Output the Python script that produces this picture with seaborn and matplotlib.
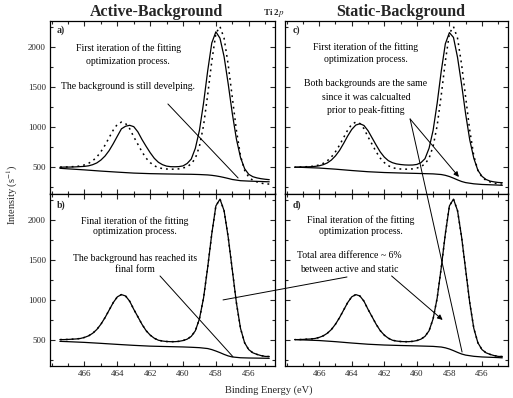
import matplotlib
matplotlib.use('Agg')
import matplotlib.pyplot as plt
import seaborn as sns
from matplotlib.ticker import MultipleLocator
from matplotlib.patches import ConnectionPatch

# =========================
# DATA
# =========================
energy = [467.5, 467.25, 467.0, 466.75, 466.5, 466.25, 466.0, 465.75, 465.5, 465.25,
          465.0, 464.75, 464.5, 464.25, 464.0, 463.75, 463.5, 463.25, 463.0, 462.75,
          462.5, 462.25, 462.0, 461.75, 461.5, 461.25, 461.0, 460.75, 460.5, 460.25,
          460.0, 459.75, 459.5, 459.25, 459.0, 458.75, 458.5, 458.25, 458.0, 457.75,
          457.5, 457.25, 457.0, 456.75, 456.5, 456.25, 456.0, 455.75, 455.5, 455.25,
          455.0, 454.75]

# measured Ti 2p spectrum (dotted, same in every panel)
spectrum = [500, 500, 502, 505, 508, 514, 527, 547, 579, 626,
            692, 774, 868, 962, 1034, 1062, 1045, 980, 878, 785,
            691, 612, 556, 517, 492, 482, 476, 474, 474, 478,
            488, 505, 540, 610, 760, 1020, 1400, 1820, 2170, 2255,
            2110, 1780, 1370, 960, 640, 460, 375, 335, 315, 300,
            290, 288]

# first iteration envelope, active background (a)
fit_active_first = [497, 500, 500, 501, 503, 506, 509, 516, 530, 552,
                    588, 638, 706, 792, 886, 978, 1010, 1022, 1005, 940,
                    845, 760, 680, 610, 560, 530, 512, 505, 504, 506,
                    515, 545, 600, 735, 960, 1300, 1700, 2050, 2190, 2110,
                    1880, 1540, 1170, 850, 620, 480, 410, 380, 365, 355,
                    348, 343]

# first iteration envelope, static background (c)
fit_static_first = [497, 500, 501, 503, 505, 509, 516, 530, 552, 588,
                    640, 708, 795, 888, 970, 1025, 1042, 1020, 955, 865,
                    775, 690, 625, 580, 555, 540, 532, 527, 525, 526,
                    533, 555, 605, 735, 960, 1300, 1700, 2040, 2180, 2120,
                    1870, 1530, 1160, 840, 610, 460, 385, 345, 325, 315,
                    308, 305]

bg_energy = [467.5, 467.0, 466.0, 465.0, 464.0, 463.0, 462.0, 461.0, 460.0, 459.5,
             459.0, 458.5, 458.25, 458.0, 457.75, 457.5, 457.25, 457.0, 456.5, 456.0,
             455.0, 454.75]
bg_active_first = [485, 478, 465, 450, 437, 425, 418, 414, 411, 410,
                   407, 402, 397, 390, 381, 370, 358, 345, 330, 325,
                   318, 316]
bg_active_final = [478, 474, 465, 453, 440, 428, 418, 413, 408, 404,
                   399, 388, 375, 357, 337, 315, 296, 283, 273, 270,
                   267, 266]
bg_static = [500, 496, 488, 474, 457, 442, 432, 426, 421, 418,
             415, 407, 397, 382, 362, 340, 320, 306, 291, 283,
             275, 272]

x_ticks = [466, 464, 462, 460, 458, 456]
y_ticks = [500, 1000, 1500, 2000]

# =========================
# STYLE
# =========================
sns.set_theme(style='ticks')
plt.rcParams['font.family'] = ['Liberation Serif', 'DejaVu Serif']
plt.rcParams['mathtext.fontset'] = 'stix'
plt.rcParams['axes.linewidth'] = 0.9

W, H = 513, 398
fig = plt.figure(figsize=(W / 100, H / 100), dpi=100)


def box(l, t, r, b):
    return [l / W, 1 - b / H, (r - l) / W, (b - t) / H]


ax_a = fig.add_axes(box(50, 21, 275, 193.5))
ax_c = fig.add_axes(box(285, 21, 508, 193.5))
ax_b = fig.add_axes(box(50, 193.5, 275, 366))
ax_d = fig.add_axes(box(285, 193.5, 508, 366))

dots = (0, (1.2, 2.6))

panels = [
    (ax_a, fit_active_first, bg_active_first, True),
    (ax_c, fit_static_first, bg_static, True),
    (ax_b, spectrum, bg_active_final, False),
    (ax_d, spectrum, bg_static, False),
]

for ax, fit, bg, first in panels:
    sns.lineplot(x=energy, y=spectrum, ax=ax, color='black', lw=1.1, linestyle=dots)
    sns.lineplot(x=energy, y=fit, ax=ax, color='black', lw=0.9)
    sns.lineplot(x=bg_energy, y=bg, ax=ax, color='black', lw=0.9)
    ax.set_xlim(468.1, 454.4)
    ax.set_ylim(170, 2325)
    ax.set_xticks(x_ticks)
    ax.set_yticks(y_ticks)
    ax.xaxis.set_minor_locator(MultipleLocator(1))
    ax.yaxis.set_minor_locator(MultipleLocator(250))
    ax.tick_params(which='both', direction='in', top=True, right=True,
                   labelsize=6.5, width=0.8, pad=3)
    ax.tick_params(which='major', length=3.5)
    ax.tick_params(which='minor', length=2)
    ax.set_xlabel('')
    ax.set_ylabel('')
    for s in ax.spines.values():
        s.set_color('black')

for ax in (ax_a, ax_c):
    ax.tick_params(labelbottom=False)
for ax in (ax_c, ax_d):
    ax.tick_params(labelleft=False)

# panel texts
tx = dict(fontsize=7, ha='center', va='center', color='black')
lab = dict(fontsize=7, fontweight='bold', ha='left', va='center')

ax_a.text(0.031, 0.948, 'a)', transform=ax_a.transAxes, **lab)
ax_a.text(0.347, 0.843, 'First iteration of the fitting', transform=ax_a.transAxes, **tx)
ax_a.text(0.347, 0.768, 'optimization process.', transform=ax_a.transAxes, **tx)
ax_a.text(0.347, 0.623, 'The background is still develping.', transform=ax_a.transAxes, **tx)

ax_c.text(0.036, 0.948, 'c)', transform=ax_c.transAxes, **lab)
ax_c.text(0.363, 0.849, 'First iteration of the fitting', transform=ax_c.transAxes, **tx)
ax_c.text(0.363, 0.774, 'optimization process.', transform=ax_c.transAxes, **tx)
ax_c.text(0.363, 0.635, 'Both backgrounds are the same', transform=ax_c.transAxes, **tx)
ax_c.text(0.363, 0.559, 'since it was calcualted', transform=ax_c.transAxes, **tx)
ax_c.text(0.363, 0.484, 'prior to peak-fitting', transform=ax_c.transAxes, **tx)

ax_b.text(0.031, 0.933, 'b)', transform=ax_b.transAxes, **lab)
ax_b.text(0.378, 0.842, 'Final iteration of the fitting', transform=ax_b.transAxes, **tx)
ax_b.text(0.378, 0.777, 'optimization process.', transform=ax_b.transAxes, **tx)
ax_b.text(0.378, 0.626, 'The background has reached its', transform=ax_b.transAxes, **tx)
ax_b.text(0.378, 0.557, 'final form', transform=ax_b.transAxes, **tx)

ax_d.text(0.036, 0.933, 'd)', transform=ax_d.transAxes, **lab)
ax_d.text(0.341, 0.846, 'Final iteration of the fitting', transform=ax_d.transAxes, **tx)
ax_d.text(0.341, 0.777, 'optimization process.', transform=ax_d.transAxes, **tx)
ax_d.text(0.287, 0.639, 'Total area difference ~ 6%', transform=ax_d.transAxes, **tx)
ax_d.text(0.287, 0.562, 'between active and static', transform=ax_d.transAxes, **tx)

# pointer lines
line = dict(arrowstyle='-', color='black', lw=0.7, shrinkA=0, shrinkB=0)
dot = dict(arrowstyle='-|>,head_length=0.25,head_width=0.12', color='black', lw=0.7,
           shrinkA=0, shrinkB=0)
ax_a.annotate('', xy=(0.836, 0.090), xytext=(0.524, 0.519),
              xycoords='axes fraction', arrowprops=line)
ax_c.annotate('', xy=(0.780, 0.096), xytext=(0.561, 0.432),
              xycoords='axes fraction', arrowprops=dot)
ax_b.annotate('', xy=(0.813, 0.054), xytext=(0.489, 0.522),
              xycoords='axes fraction', arrowprops=line)
ax_d.annotate('', xy=(0.707, 0.267), xytext=(0.478, 0.522),
              xycoords='axes fraction', arrowprops=dot)

for xyA, axA, xyB, axB in [((0.561, 0.432), ax_c, (0.794, 0.081), ax_d),
                           ((0.769, 0.383), ax_b, (0.278, 0.516), ax_d)]:
    con = ConnectionPatch(xyA=xyA, coordsA='axes fraction', axesA=axA,
                          xyB=xyB, coordsB='axes fraction', axesB=axB,
                          color='black', lw=0.7)
    fig.add_artist(con)

# titles and axis labels
fig.text(156 / W, 1 - 12 / H, 'Active-Background', ha='center', va='center',
         fontsize=11.5, fontweight='bold')
fig.text(401 / W, 1 - 12 / H, 'Static-Background', ha='center', va='center',
         fontsize=11.5, fontweight='bold')
fig.text(274 / W, 1 - 13 / H, r'Ti 2$\mathbf{\mathit{p}}$', ha='center', va='center',
         fontsize=6.5, fontweight='bold')
fig.text(12 / W, 1 - 195 / H, 'Intensity (s$^{-1}$)', ha='center', va='center',
         rotation=90, fontsize=7.5)
fig.text(269 / W, 1 - 390 / H, 'Binding Energy (eV)', ha='center', va='center',
         fontsize=7.5)

fig.savefig('out.png', dpi=100)
